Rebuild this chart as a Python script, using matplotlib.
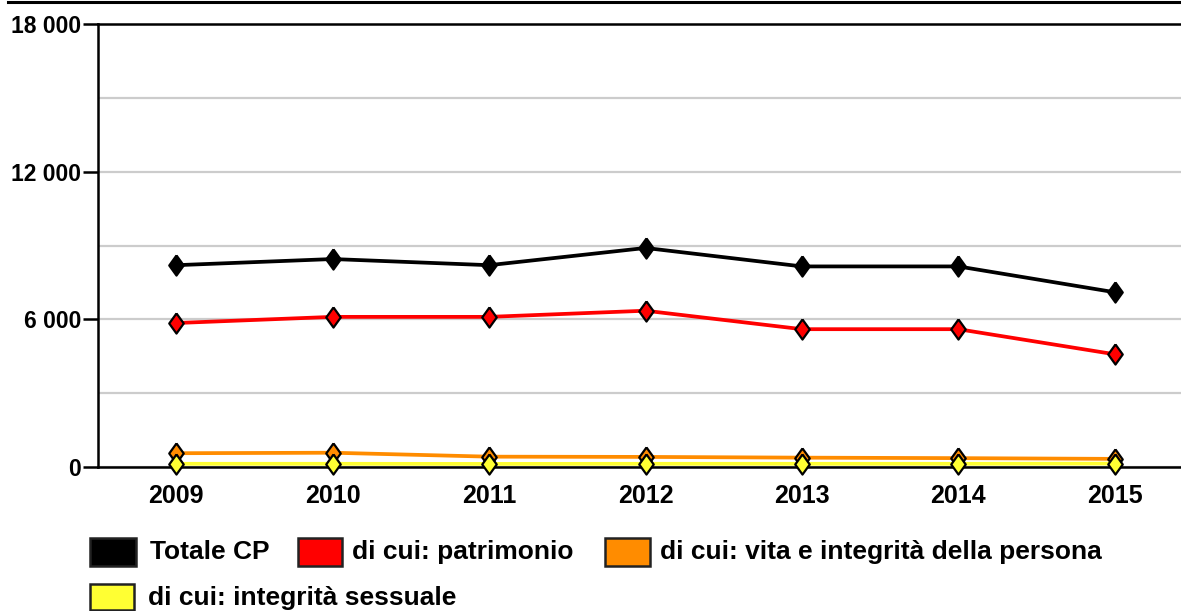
import matplotlib
matplotlib.use("Agg")
import matplotlib.pyplot as plt
from matplotlib.lines import Line2D
from matplotlib.patches import Rectangle
from matplotlib.ticker import FuncFormatter, MultipleLocator

plt.rcParams['font.family'] = ['Liberation Sans', 'DejaVu Sans']

years = [2009, 2010, 2011, 2012, 2013, 2014, 2015]
totale_cp = [8200, 8450, 8200, 8900, 8150, 8150, 7100]
patrimonio = [5850, 6100, 6100, 6350, 5600, 5600, 4580]
vita_persona = [560, 580, 420, 410, 380, 360, 330]
integrita_sessuale = [130, 130, 125, 130, 130, 130, 140]

series = [
    ("Totale CP", totale_cp, "#000000"),
    ("di cui: patrimonio", patrimonio, "#ff0000"),
    ("di cui: vita e integrità della persona", vita_persona, "#ff8c00"),
    ("di cui: integrità sessuale", integrita_sessuale, "#ffff33"),
]

W, H = 1181, 611
fig = plt.figure(figsize=(W / 100, H / 100), dpi=100)
ax = fig.add_axes([98 / W, 144 / H, 1095 / W, 443 / H])

# slightly tall diamond
diamond = [(0, 1), (0.72, 0), (0, -1), (-0.72, 0), (0, 1)]

for name, vals, col in series:
    ax.plot(years, vals, color=col, lw=2.7, marker=diamond, ms=14.5,
            mfc=col, mec="black", mew=1.6, zorder=3, clip_on=False)

ax.set_xlim(2008.5, 2015.5)
ax.set_ylim(0, 18000)
ax.set_xticks(years)
ax.yaxis.set_major_locator(MultipleLocator(6000))
ax.yaxis.set_minor_locator(MultipleLocator(3000))
ax.yaxis.set_major_formatter(FuncFormatter(lambda v, p: f"{int(v):,}".replace(",", " ")))

ax.grid(axis="y", which="both", color="#cccccc", lw=1.6, zorder=0)
ax.set_axisbelow(True)

for s in ["left", "top", "bottom"]:
    ax.spines[s].set_linewidth(1.8)
    ax.spines[s].set_color("black")
ax.spines["right"].set_visible(False)

ax.tick_params(axis="y", which="major", length=11, width=1.8, pad=1, labelsize=16.5)
ax.tick_params(axis="y", which="minor", length=0)
ax.tick_params(axis="x", length=0, pad=12, labelsize=18)
for lab in ax.get_xticklabels() + ax.get_yticklabels():
    lab.set_fontweight("bold")

# thin rule across the top of the figure
fig.add_artist(Line2D([8 / W, 1], [1 - 2 / H, 1 - 2 / H], color="black", lw=2.2))

# legend drawn by hand, two rows
legend_items = [
    (90, 538, 46, 28, 150, 552, 0),
    (298, 538, 44, 28, 352, 552, 1),
    (605, 538, 45, 28, 660, 552, 2),
    (90, 584, 44, 26, 148, 598, 3),
]
for x, y, w, h, tx, ty, i in legend_items:
    name, vals, col = series[i]
    fig.add_artist(Rectangle((x / W, 1 - (y + h) / H), w / W, h / H,
                             transform=fig.transFigure, facecolor=col,
                             edgecolor="#222222", lw=1.8))
    fig.text(tx / W, 1 - ty / H, name, fontsize=19, fontweight="bold",
             va="center", ha="left")

fig.savefig("out.png", dpi=100)
